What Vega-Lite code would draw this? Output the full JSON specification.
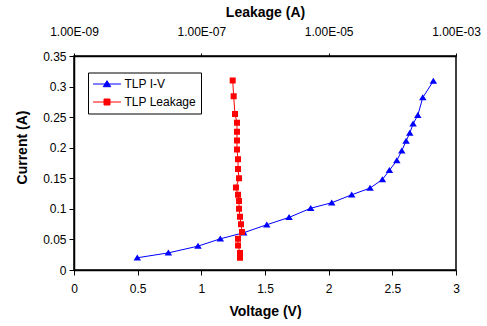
{
  "$schema": "https://vega.github.io/schema/vega-lite/v6.json",
  "width": 382,
  "height": 214,
  "autosize": {"type": "none"},
  "padding": {"left": 74, "top": 56, "right": 31, "bottom": 56},
  "background": "white",
  "datasets": {
    "iv": [
      {"series": "TLP I-V", "voltage": 0.497, "current": 0.020},
      {"series": "TLP I-V", "voltage": 0.741, "current": 0.028},
      {"series": "TLP I-V", "voltage": 0.974, "current": 0.039},
      {"series": "TLP I-V", "voltage": 1.149, "current": 0.051},
      {"series": "TLP I-V", "voltage": 1.333, "current": 0.061},
      {"series": "TLP I-V", "voltage": 1.514, "current": 0.074},
      {"series": "TLP I-V", "voltage": 1.689, "current": 0.086},
      {"series": "TLP I-V", "voltage": 1.859, "current": 0.101},
      {"series": "TLP I-V", "voltage": 2.024, "current": 0.110},
      {"series": "TLP I-V", "voltage": 2.181, "current": 0.123},
      {"series": "TLP I-V", "voltage": 2.325, "current": 0.134},
      {"series": "TLP I-V", "voltage": 2.422, "current": 0.148},
      {"series": "TLP I-V", "voltage": 2.477, "current": 0.163},
      {"series": "TLP I-V", "voltage": 2.535, "current": 0.179},
      {"series": "TLP I-V", "voltage": 2.574, "current": 0.195},
      {"series": "TLP I-V", "voltage": 2.608, "current": 0.211},
      {"series": "TLP I-V", "voltage": 2.637, "current": 0.224},
      {"series": "TLP I-V", "voltage": 2.663, "current": 0.239},
      {"series": "TLP I-V", "voltage": 2.700, "current": 0.253},
      {"series": "TLP I-V", "voltage": 2.739, "current": 0.282},
      {"series": "TLP I-V", "voltage": 2.822, "current": 0.309}
    ],
    "leak": [
      {"series": "TLP Leakage", "leakage": 3.11e-7, "current": 0.310},
      {"series": "TLP Leakage", "leakage": 3.22e-7, "current": 0.284},
      {"series": "TLP Leakage", "leakage": 3.38e-7, "current": 0.255},
      {"series": "TLP Leakage", "leakage": 3.63e-7, "current": 0.241},
      {"series": "TLP Leakage", "leakage": 3.63e-7, "current": 0.226},
      {"series": "TLP Leakage", "leakage": 3.63e-7, "current": 0.212},
      {"series": "TLP Leakage", "leakage": 3.63e-7, "current": 0.197},
      {"series": "TLP Leakage", "leakage": 3.77e-7, "current": 0.181},
      {"series": "TLP Leakage", "leakage": 3.77e-7, "current": 0.165},
      {"series": "TLP Leakage", "leakage": 3.91e-7, "current": 0.150},
      {"series": "TLP Leakage", "leakage": 3.50e-7, "current": 0.135},
      {"series": "TLP Leakage", "leakage": 3.77e-7, "current": 0.123},
      {"series": "TLP Leakage", "leakage": 3.91e-7, "current": 0.113},
      {"series": "TLP Leakage", "leakage": 3.91e-7, "current": 0.100},
      {"series": "TLP Leakage", "leakage": 4.05e-7, "current": 0.087},
      {"series": "TLP Leakage", "leakage": 4.20e-7, "current": 0.075},
      {"series": "TLP Leakage", "leakage": 4.35e-7, "current": 0.062},
      {"series": "TLP Leakage", "leakage": 3.77e-7, "current": 0.051},
      {"series": "TLP Leakage", "leakage": 3.77e-7, "current": 0.040},
      {"series": "TLP Leakage", "leakage": 4.05e-7, "current": 0.028},
      {"series": "TLP Leakage", "leakage": 4.05e-7, "current": 0.020}
    ]
  },
  "config": {
    "font": "Liberation Sans",
    "view": {"stroke": "black", "strokeWidth": 1.5},
    "axis": {
      "grid": false,
      "domainColor": "black",
      "domainWidth": 1.5,
      "tickColor": "black",
      "tickWidth": 1,
      "labelColor": "black",
      "titleColor": "black",
      "labelFontSize": 12,
      "titleFontSize": 14,
      "titleFontWeight": "bold",
      "labelFont": "Liberation Sans",
      "titleFont": "Liberation Sans",
      "labelFlush": false,
      "labelOverlap": false
    }
  },
  "encoding": {
    "y": {"field": "current", "type": "quantitative", "scale": {"domain": [0, 0.35], "nice": false},
      "axis": {"title": "Current (A)", "values": [0, 0.05, 0.1, 0.15, 0.2, 0.25, 0.3, 0.35], "format": "~g", "tickSize": 5, "labelPadding": 3, "titleX": -52, "titleY": 91, "titleBaseline": "middle"}}
  },
  "layer": [
    {
      "data": {"name": "iv"},
      "encoding": {
        "x": {"field": "voltage", "type": "quantitative", "scale": {"domain": [0, 3], "nice": false},
          "axis": {"title": "Voltage (V)", "values": [0, 0.5, 1, 1.5, 2, 2.5, 3], "format": "~g", "tickSize": 5, "labelPadding": 8, "titlePadding": 10}}
      },
      "layer": [
        {
          "mark": {"type": "line", "color": "#0000FF", "strokeWidth": 1},
          "encoding": {
            "order": {"field": "current", "type": "quantitative"}
          }
        },
        {
          "mark": {"type": "point", "filled": true, "strokeWidth": 0, "size": 144, "opacity": 1},
          "encoding": {
            "color": {"field": "series", "type": "nominal",
              "scale": {"domain": ["TLP I-V", "TLP Leakage"], "range": ["#0000FF", "#FF0000"]},
              "legend": {"orient": "none", "legendX": 14, "legendY": 16.5, "title": null, "strokeColor": "black", "fillColor": "white", "padding": 5, "symbolSize": 144, "symbolStrokeWidth": 1, "symbolOpacity": 1, "symbolOffset": 7.5, "labelFontSize": 12, "labelColor": "black", "labelOffset": 11, "rowPadding": 5, "labelFont": "Liberation Sans"}},
            "stroke": {"field": "series", "type": "nominal",
              "scale": {"domain": ["TLP I-V", "TLP Leakage"], "range": ["#0000FF", "#FF0000"]}},
            "shape": {"field": "series", "type": "nominal",
              "scale": {"domain": ["TLP I-V", "TLP Leakage"], "range": ["M-2.33,0H2.33M0,-0.55L0.625,0.45L-0.625,0.45Z", "M-2.33,0H2.33M-0.5,-0.5H0.5V0.5H-0.5Z"]}}
          }
        }
      ]
    },
    {
      "data": {"name": "leak"},
      "encoding": {
        "x": {"field": "leakage", "type": "quantitative", "scale": {"type": "log", "domain": [1e-9, 1e-3], "nice": false},
          "axis": {"orient": "top", "title": "Leakage (A)", "values": [1e-9, 1e-7, 1e-5, 1e-3],
            "labelExpr": "'1.00E-' + pad(toString(abs(round(log(datum.value)/LN10))), 2, '0', 'left')",
            "tickSize": 3, "labelPadding": 15, "titlePadding": 6}}
      },
      "layer": [
        {
          "mark": {"type": "line", "color": "#FF0000", "strokeWidth": 1},
          "encoding": {
            "order": {"field": "current", "type": "quantitative"}
          }
        },
        {
          "mark": {"type": "point", "filled": true, "strokeWidth": 0, "size": 144, "opacity": 1},
          "encoding": {
            "color": {"field": "series", "type": "nominal",
              "scale": {"domain": ["TLP I-V", "TLP Leakage"], "range": ["#0000FF", "#FF0000"]}},
            "stroke": {"field": "series", "type": "nominal",
              "scale": {"domain": ["TLP I-V", "TLP Leakage"], "range": ["#0000FF", "#FF0000"]}},
            "shape": {"field": "series", "type": "nominal",
              "scale": {"domain": ["TLP I-V", "TLP Leakage"], "range": ["M-2.33,0H2.33M0,-0.55L0.625,0.45L-0.625,0.45Z", "M-2.33,0H2.33M-0.5,-0.5H0.5V0.5H-0.5Z"]}}
          }
        }
      ]
    }
  ],
  "resolve": {"scale": {"x": "independent"}}
}
